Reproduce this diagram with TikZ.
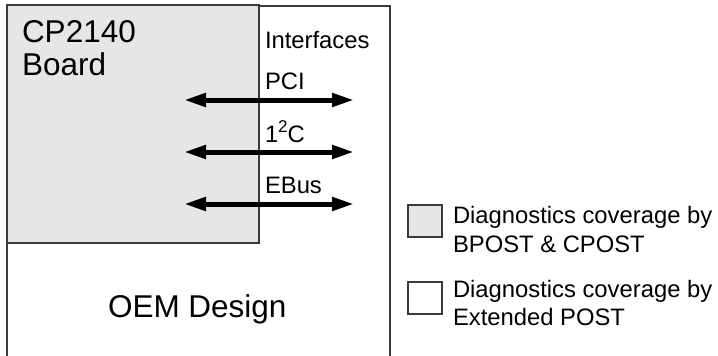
\documentclass[tikz,border=0pt]{standalone}
\usepackage{fontspec}
\setmainfont{Liberation Sans}
\usetikzlibrary{arrows.meta, positioning}

\definecolor{boardgray}{HTML}{E6E6E6}
\definecolor{edgegray}{HTML}{3A3A3A}

\begin{document}
\begin{tikzpicture}[
        x=1pt, y=-1pt,
        every node/.style={inner sep=0pt, outer sep=0pt},
        bigtext/.style={font=\fontsize{31.5}{33}\selectfont},
        smalltext/.style={font=\fontsize{23.8}{29}\selectfont},
        blockbox/.style={rectangle, draw=edgegray, line width=1.3pt,
          anchor=north west},
        keybox/.style={rectangle, draw=edgegray, line width=1.2pt,
          minimum width=34pt, minimum height=32pt, anchor=north west},
        busarrow/.style={line width=5pt,
          {Triangle[length=22pt,width=13pt]}-{Triangle[length=22pt,width=13pt]}},
      ]
      \clip (0,0) rectangle (718,356);

      % outer design and board
      \node[blockbox, minimum width=383pt, minimum height=370pt]
        (oem) at (7,6) {};
      \node[blockbox, fill=boardgray, minimum width=252pt,
        minimum height=238pt] (board) at (7,5) {};

      \node[bigtext, anchor=base west] (boardname) at (22,42) {CP2140};
      \node[bigtext, anchor=base west] (boardname2) at (22,75) {Board};
      \node[bigtext, anchor=base west] (oemname) at (108,317) {OEM Design};

      % interfaces
      \node[smalltext, anchor=base west] (iface) at (265,48) {Interfaces};
      \node[smalltext, anchor=base west] (pci) at (265,89) {PCI};
      \node[smalltext, anchor=base west] (iic) at (265,142)
        {1\raisebox{0.38em}{\fontsize{17}{17}\selectfont 2}C};
      \node[smalltext, anchor=base west] (ebus) at (265,193) {EBus};

      \coordinate (pcil) at (184,100);  \coordinate (pcir) at (354,100);
      \coordinate (iicl) at (184,152);  \coordinate (iicr) at (354,152);
      \coordinate (ebusl) at (184,204); \coordinate (ebusr) at (354,204);
      \draw[busarrow] (pcil) -- (pcir);
      \draw[busarrow] (iicl) -- (iicr);
      \draw[busarrow] (ebusl) -- (ebusr);

      % legend
      \node[keybox, fill=boardgray] (keyboard) at (408,205) {};
      \node[keybox] (keyoem) at (408,282) {};
      \node[smalltext, anchor=base west] (keyboardtxt) at (453,223)
        {Diagnostics coverage by};
      \node[smalltext, anchor=base west] (keyboardtxt2) at (453,252)
        {BPOST \& CPOST};
      \node[smalltext, anchor=base west] (keyoemtxt) at (453,297)
        {Diagnostics coverage by};
      \node[smalltext, anchor=base west] (keyoemtxt2) at (453,325)
        {Extended POST};
    \end{tikzpicture}
\end{document}
